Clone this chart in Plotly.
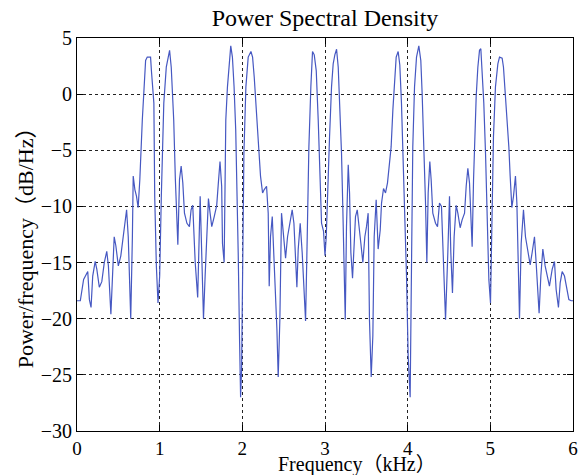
import plotly.graph_objects as go

# ---- data (kHz, dB/Hz) ----
freq_a = [0.00, 0.04, 0.08, 0.13, 0.15, 0.17, 0.19, 0.22, 0.24, 0.27,
          0.30, 0.33, 0.36, 0.38, 0.41, 0.43, 0.45, 0.47, 0.50, 0.53,
          0.57, 0.60, 0.62, 0.64, 0.65, 0.67, 0.68, 0.70, 0.72, 0.74,
          0.76, 0.79, 0.81, 0.83, 0.85, 0.89, 0.90, 0.93, 0.94, 0.96,
          0.98, 1.00, 1.02, 1.05, 1.08, 1.11, 1.12, 1.14, 1.17, 1.19,
          1.22, 1.24, 1.26, 1.28, 1.30, 1.33, 1.36, 1.38, 1.40, 1.43,
          1.46, 1.49, 1.51, 1.53]
psd_a = [-18.4, -18.4, -16.5, -15.8, -18.3, -19.0, -16.2, -14.9, -15.6, -17.2,
         -16.7, -15.0, -14.0, -15.3, -19.6, -15.6, -12.7, -13.5, -15.3, -14.4,
         -12.1, -10.3, -12.7, -18.3, -20.0, -12.7, -7.3, -8.5, -9.1, -10.1,
         -7.6, -2.3, 0.1, 3.0, 3.3, 3.3, 2.1, -0.8, -9.1, -15.3,
         -18.6, -16.2, -9.1, -0.8, 2.4, 3.8, 3.9, 2.4, -2.3, -7.6,
         -13.4, -7.6, -6.4, -7.9, -10.6, -11.5, -11.8, -10.3, -9.9, -15.0,
         -18.1, -9.1, -15.6, -20.0]

freq_b = [1.55, 1.57, 1.59, 1.61, 1.63, 1.66, 1.69, 1.71, 1.73, 1.75,
          1.76, 1.78, 1.79, 1.80, 1.82, 1.84, 1.86, 1.88, 1.90, 1.92,
          1.94, 1.95, 1.967, 1.979, 1.991, 2.003, 2.019, 2.043, 2.071, 2.104,
          2.124, 2.144, 2.172, 2.200, 2.220, 2.245, 2.265, 2.293, 2.313, 2.325,
          2.341, 2.362, 2.378, 2.402, 2.418, 2.434, 2.454, 2.474, 2.495, 2.523,
          2.547, 2.575, 2.603, 2.624, 2.644, 2.660, 2.676, 2.700, 2.724, 2.749,
          2.765, 2.785, 2.805, 2.829, 2.849, 2.870, 2.894, 2.918, 2.938, 2.958,
          2.982]
psd_b = [-16.2, -12.7, -9.3, -10.6, -11.8, -10.9, -9.9, -7.9, -6.0, -8.2,
         -13.3, -15.0, -6.7, -2.3, 0.65, 3.0, 4.3, 3.3, 0.65, -3.2,
         -9.7, -14.1, -22.1, -27.0, -24.5, -14.4, -5.3, 0.65, 3.3, 3.8,
         3.3, 1.5, -2.3, -5.0, -7.3, -8.8, -8.5, -8.2, -10.6, -17.1,
         -12.7, -10.9, -13.8, -17.7, -20.9, -25.2, -20.1, -10.6, -12.4, -14.6,
         -12.7, -11.5, -10.3, -11.5, -15.0, -17.2, -13.8, -11.5, -14.1, -17.7,
         -20.2, -12.7, -4.7, 0.65, 3.8, 3.5, 2.1, -2.3, -8.2, -11.5,
         -12.2]

freq_c = [3.000, 3.015, 3.035, 3.055, 3.079, 3.099, 3.119, 3.140, 3.160, 3.180,
          3.200, 3.216, 3.233, 3.245, 3.260, 3.281, 3.297, 3.313, 3.333, 3.349,
          3.369, 3.390, 3.410, 3.434, 3.458, 3.482, 3.502, 3.522, 3.538, 3.559,
          3.579, 3.595, 3.619, 3.643, 3.668, 3.684, 3.708, 3.732, 3.756, 3.780,
          3.800, 3.821, 3.841, 3.861, 3.885, 3.905, 3.925, 3.946, 3.966, 3.986,
          4.006, 4.030, 4.046, 4.062, 4.083, 4.107, 4.135, 4.159, 4.175, 4.196,
          4.216, 4.232, 4.248, 4.268, 4.284, 4.304, 4.337, 4.361, 4.385, 4.409,
          4.433, 4.458]
psd_c = [-14.4, -12.7, -7.3, -3.8, 0.65, 2.7, 3.5, 4.0, 2.4, -0.8,
         -5.3, -10.3, -17.1, -20.1, -11.8, -6.3, -8.8, -14.1, -16.4, -14.4,
         -10.9, -10.3, -11.5, -13.3, -15.0, -12.7, -11.8, -10.6, -20.1, -25.2,
         -21.5, -12.7, -9.4, -13.8, -12.1, -9.7, -8.4, -8.8, -7.9, -6.4,
         -4.7, -1.4, 0.65, 3.3, 3.8, 2.6, -0.8, -5.6, -10.3, -16.2,
         -23.3, -27.0, -15.6, -4.7, 0.65, 3.3, 4.3, 3.0, 0.1, -4.4,
         -9.7, -15.0, -8.8, -6.0, -7.6, -10.6, -11.5, -11.8, -9.7, -10.0,
         -15.6, -20.1]

freq_d = [4.486, 4.506, 4.522, 4.542, 4.562, 4.587, 4.607, 4.635, 4.659, 4.688,
          4.708, 4.728, 4.748, 4.764, 4.780, 4.797, 4.813, 4.829, 4.849, 4.869,
          4.885, 4.901, 4.921, 4.942, 4.962, 4.982, 5.002, 5.018, 5.038, 5.062,
          5.091, 5.111, 5.143, 5.159, 5.183, 5.208, 5.224, 5.240, 5.260, 5.280,
          5.304, 5.321, 5.333, 5.353, 5.373, 5.401, 5.425, 5.454, 5.482, 5.506,
          5.534, 5.554, 5.574, 5.590, 5.611, 5.635, 5.663, 5.687, 5.715, 5.748,
          5.776, 5.796, 5.824, 5.845, 5.869, 5.897, 5.925, 5.950, 5.978, 6.000]
psd_d = [-14.1, -9.1, -14.1, -17.7, -12.7, -9.9, -10.6, -11.9, -11.2, -10.6,
         -8.2, -6.6, -7.9, -11.5, -13.6, -7.6, -3.8, -0.2, 2.4, 3.9,
         4.05, 2.1, -0.8, -5.3, -11.5, -16.5, -18.6, -11.5, -3.8, 0.65,
         2.7, 3.3, 3.2, 2.4, 0.1, -2.9, -4.7, -7.3, -10.1, -9.1,
         -7.3, -9.7, -13.6, -20.0, -13.3, -10.3, -12.7, -14.1, -15.2, -14.1,
         -12.7, -15.0, -17.4, -19.5, -16.2, -13.8, -15.3, -16.2, -17.1, -15.6,
         -14.9, -17.4, -19.0, -16.8, -15.8, -16.2, -17.2, -18.3, -18.4, -18.4]

x_ticks = [0, 1, 2, 3, 4, 5, 6]
y_ticks = [5, 0, -5, -10, -15, -20, -25, -30]

freq_khz = freq_a + freq_b + freq_c + freq_d
psd_db = psd_a + psd_b + psd_c + psd_d

FONT = "Liberation Serif, Times New Roman, Noto Sans CJK SC, serif"

fig = go.Figure()
fig.add_trace(go.Scatter(x=freq_khz, y=psd_db, mode="lines",
                         line=dict(color="#4658c2", width=1.2)))

axis_common = dict(showline=True, linecolor="black", linewidth=1, mirror="ticks",
                   ticks="inside", ticklen=6, tickcolor="black",
                   showgrid=True, gridcolor="#222222", gridwidth=1,
                   griddash="3px,3px", zeroline=False, automargin=False,
                   tickfont=dict(family=FONT, size=20, color="black"))

fig.update_xaxes(range=[0, 6], tickvals=x_ticks, **axis_common)
fig.update_yaxes(range=[-30, 5], tickvals=y_ticks, **axis_common)
fig.update_xaxes(tickfont=dict(size=19), ticklabelstandoff=0)

fig.update_layout(
    width=585, height=475,
    margin=dict(l=77, r=12, t=38, b=44, autoexpand=False),
    plot_bgcolor="white", paper_bgcolor="white",
    showlegend=False,
    font=dict(family=FONT, size=20, color="black"),
    title=dict(text="Power Spectral Density", xref="paper", x=0.5, xanchor="center",
               yref="container", y=1 - 18 / 475, yanchor="middle",
               font=dict(family=FONT, size=24, color="black")),
    annotations=[
        dict(text="Frequency（kHz）", xref="paper", yref="paper",
             x=0.565, y=-0.119, xanchor="center", yanchor="bottom",
             showarrow=False, font=dict(family=FONT, size=20, color="black")),
        dict(text="Power/frequency（dB/Hz）", xref="paper", yref="paper",
             x=-0.105, y=0.48, xanchor="center", yanchor="middle", textangle=-90,
             showarrow=False, font=dict(family=FONT, size=22, color="black")),
    ],
)

fig.write_html("out.html", config={"displayModeBar": False},
               post_script="document.body.style.margin='0';document.body.style.overflow='hidden';")
